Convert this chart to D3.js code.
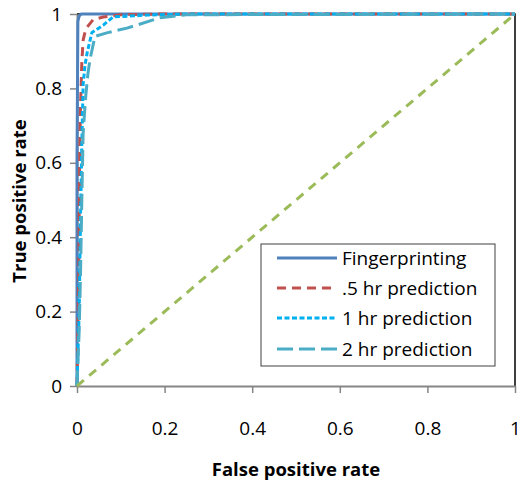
<!DOCTYPE html>
<html>
<head>
<meta charset="utf-8">
<script src="https://cdn.jsdelivr.net/npm/d3@7"></script>
<style>
  body { margin: 0; background: #fff; }
  #wrapper { width: 517px; height: 483px; }
  text { font-family: "Open Sans", sans-serif; fill: #000; }
</style>
</head>
<body>
<div id="wrapper"></div>
<script>
// ROC curves, values
const seriesNames = ["Fingerprinting", ".5 hr prediction", "1 hr prediction", "2 hr prediction"];

const fingerFpr = [0, 0, 0.002, 0.005, 0.01, 1];
const fingerTpr = [0, 0.6, 0.98, 0.995, 1, 1];

const halfHrFpr = [0, 0.004, 0.006, 0.008, 0.011, 0.014, 0.02, 0.037, 0.06, 0.1, 0.2, 1];
const halfHrTpr = [0, 0.3, 0.6, 0.75, 0.87, 0.93, 0.96, 0.985, 0.992, 0.998, 1, 1];

const oneHrFpr = [0, 0.005, 0.008, 0.011, 0.014, 0.018, 0.023, 0.034, 0.06, 0.082, 0.16, 0.25, 1];
const oneHrTpr = [0, 0.2, 0.45, 0.65, 0.81, 0.86, 0.895, 0.95, 0.97, 0.992, 0.997, 1, 1];

const twoHrFpr = [0, 0.005, 0.008, 0.011, 0.014, 0.02, 0.025, 0.03, 0.041, 0.07, 0.114, 0.19, 0.25, 1];
const twoHrTpr = [0, 0.15, 0.3, 0.5, 0.68, 0.78, 0.84, 0.88, 0.94, 0.95, 0.962, 0.99, 0.998, 1];

const randomFpr = [0, 1];
const randomTpr = [0, 1];

const xTicks = [0, 0.2, 0.4, 0.6, 0.8, 1];
const yTicks = [0, 0.2, 0.4, 0.6, 0.8, 1];

function drawRoc() {
  let dimensions = {
    width: 517,
    height: 483,
    margin: { top: 14, right: 2, bottom: 97, left: 77 },
  };
  dimensions.boundedWidth = dimensions.width - dimensions.margin.left - dimensions.margin.right;
  dimensions.boundedHeight = dimensions.height - dimensions.margin.top - dimensions.margin.bottom;

  const svg = d3.select("#wrapper").append("svg")
    .attr("width", dimensions.width)
    .attr("height", dimensions.height);

  const bounds = svg.append("g")
    .attr("transform", `translate(${dimensions.margin.left},${dimensions.margin.top})`);

  const xScale = d3.scaleLinear().domain([0, 1]).range([0, dimensions.boundedWidth]);
  const yScale = d3.scaleLinear().domain([0, 1]).range([dimensions.boundedHeight, 0]);

  // plot area border on the right and top
  bounds.append("path")
    .attr("d", `M0,0 H${dimensions.boundedWidth} V${dimensions.boundedHeight}`)
    .attr("fill", "none")
    .attr("stroke", "#000")
    .attr("stroke-width", 1.5);

  const xAxis = bounds.append("g")
    .attr("transform", `translate(0,${dimensions.boundedHeight})`)
    .call(d3.axisBottom(xScale).tickValues(xTicks).tickFormat(d3.format("")).tickSizeInner(7).tickSizeOuter(0).tickPadding(29));

  const yAxis = bounds.append("g")
    .call(d3.axisLeft(yScale).tickValues(yTicks).tickFormat(d3.format("")).tickSizeInner(7).tickSizeOuter(0).tickPadding(8));

  [xAxis, yAxis].forEach(ax => {
    ax.select(".domain").attr("stroke", "#868686").attr("stroke-width", 2);
    ax.selectAll(".tick line").attr("stroke", "#868686").attr("stroke-width", 1.5);
    ax.selectAll(".tick text").style("font-family", "Open Sans").style("font-size", "19px").attr("fill", "#000");
  });

  const lineGenerator = d3.line()
    .x(d => xScale(d[0]))
    .y(d => yScale(d[1]));

  const series = [
    { fpr: fingerFpr, tpr: fingerTpr, color: "#4F81BD", dash: null },
    { fpr: halfHrFpr, tpr: halfHrTpr, color: "#C0504D", dash: "9,6" },
    { fpr: oneHrFpr, tpr: oneHrTpr, color: "#00B0F0", dash: "5,2.5" },
    { fpr: twoHrFpr, tpr: twoHrTpr, color: "#4BACC6", dash: "16,6" },
  ];

  series.forEach(s => {
    bounds.append("path")
      .attr("d", lineGenerator(d3.zip(s.fpr, s.tpr)))
      .attr("fill", "none")
      .attr("stroke", s.color)
      .attr("stroke-width", 3)
      .attr("stroke-dasharray", s.dash);
  });

  // random guess diagonal
  bounds.append("path")
    .attr("d", lineGenerator(d3.zip(randomFpr, randomTpr)))
    .attr("fill", "none")
    .attr("stroke", "#9BBB59")
    .attr("stroke-width", 3)
    .attr("stroke-dasharray", "9,7");

  // axis titles
  svg.append("text")
    .attr("x", 296)
    .attr("y", 476)
    .attr("text-anchor", "middle")
    .style("font-size", "18.5px")
    .style("font-weight", "bold")
    .text("False positive rate");

  svg.append("text")
    .attr("transform", "translate(26,201) rotate(-90)")
    .attr("text-anchor", "middle")
    .style("font-size", "18.5px")
    .style("font-weight", "bold")
    .text("True positive rate");

  // legend
  const legend = svg.append("g").attr("transform", "translate(261,244)");
  legend.append("rect")
    .attr("width", 234)
    .attr("height", 122)
    .attr("fill", "#fff")
    .attr("stroke", "#404040")
    .attr("stroke-width", 1);

  const rowY = [14, 44, 74, 105];
  series.forEach((s, i) => {
    legend.append("line")
      .attr("x1", 16).attr("x2", 76)
      .attr("y1", rowY[i]).attr("y2", rowY[i])
      .attr("stroke", s.color)
      .attr("stroke-width", 3)
      .attr("stroke-dasharray", s.dash);
    legend.append("text")
      .attr("x", 81)
      .attr("y", rowY[i])
      .attr("dy", "0.35em")
      .style("font-size", "19px")
      .text(seriesNames[i]);
  });
}

drawRoc();
</script>
</body>
</html>
